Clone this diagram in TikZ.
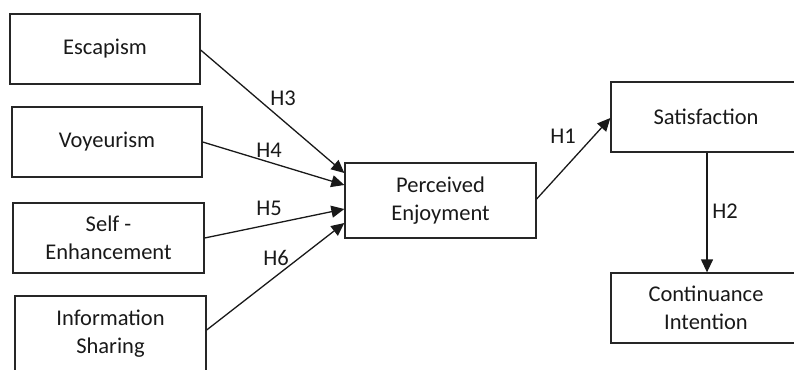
\documentclass[tikz,border=0pt]{standalone}
\usepackage{fontspec}
\setmainfont{Carlito}
\usetikzlibrary{arrows.meta}
\begin{document}
\begin{tikzpicture}[x=1pt,y=-1pt,
  box/.style={draw=black!85,line width=1.3pt,inner sep=0pt,align=center,
    font=\fontsize{22.5}{28}\selectfont,text=black!90},
  hlab/.style={font=\fontsize{22.5}{26}\selectfont,text=black!90,inner sep=0pt},
  link/.style={draw=black!90,line width=1.3pt,-{Triangle[length=13pt,width=12pt]}}]
\useasboundingbox (0,0) rectangle (794,369);
\clip (0,0) rectangle (794,369);
\node[box,minimum width=190pt,minimum height=70pt] (esc) at (105,49) {Escapism};
\node[box,minimum width=190pt,minimum height=70pt] (voy) at (107,142) {Voyeurism};
\node[box,minimum width=191pt,minimum height=70pt] (self) at (108.5,238) {Self -\\Enhancement};
\node[box,minimum width=191pt,minimum height=76pt] (info) at (110.5,334) {Information\\Sharing};
\node[box,minimum width=191pt,minimum height=75pt] (pe) at (440.5,200.5) {Perceived\\Enjoyment};
\node[box,minimum width=190pt,minimum height=70pt] (sat) at (706,117) {Satisfaction};
\node[box,minimum width=190pt,minimum height=70pt] (cont) at (706,308) {Continuance\\Intention};
\draw[link] ([yshift=-1pt]esc.east) -- ([yshift=27.5pt]pe.west);
\draw[link] (voy.east) -- ([yshift=15.5pt]pe.west);
\draw[link] (self.east) -- ([yshift=-8.5pt]pe.west);
\draw[link] ([yshift=4pt]info.east) -- ([yshift=-22.5pt]pe.west);
\draw[link] ([yshift=1.5pt]pe.east) -- ([yshift=-1pt]sat.west);
\draw[link] ([xshift=1pt]sat.south) -- ([xshift=1pt]cont.north);
\node[hlab] (h3) at (283,98) {H3};
\node[hlab] (h4) at (269,150) {H4};
\node[hlab] (h5) at (269,208) {H5};
\node[hlab] (h6) at (276,258) {H6};
\node[hlab] (h1) at (563,136) {H1};
\node[hlab] (h2) at (725,211) {H2};
\end{tikzpicture}
\end{document}
